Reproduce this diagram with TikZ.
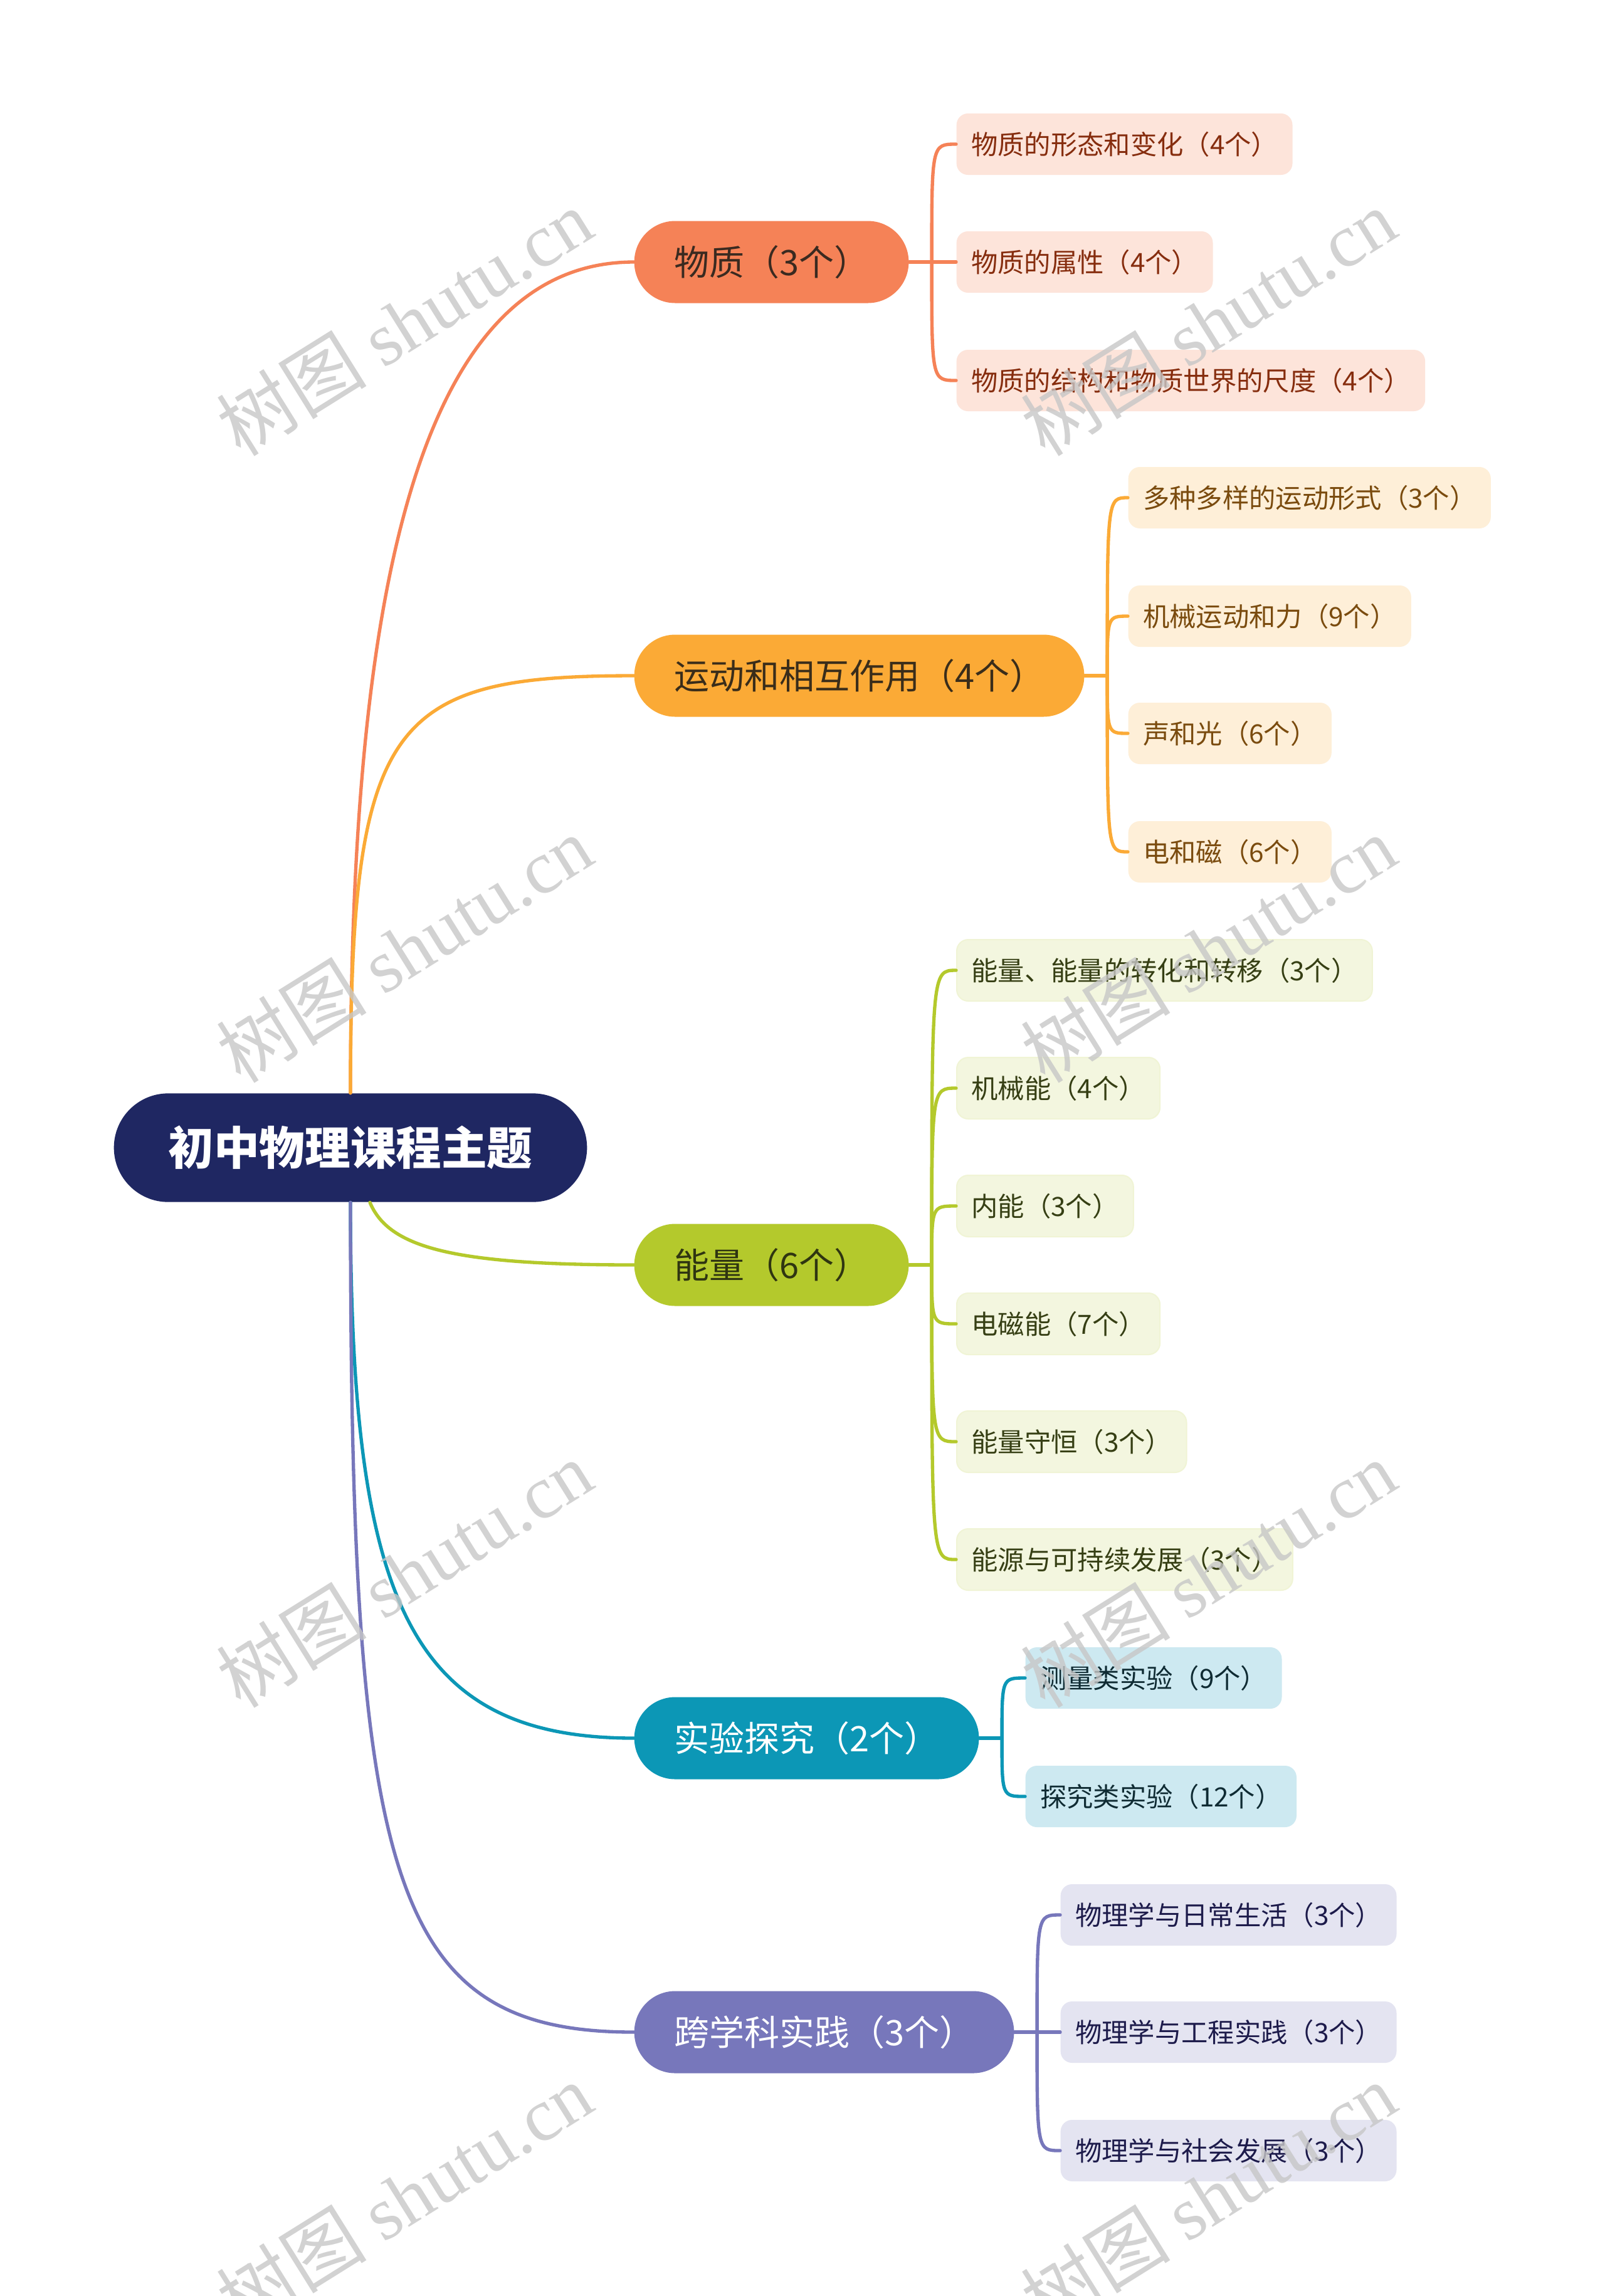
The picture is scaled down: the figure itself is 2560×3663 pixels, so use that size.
\documentclass[tikz,border=0pt]{standalone}
\usepackage{fontspec}
\setmainfont{Noto Sans CJK SC}
\newfontfamily\wmlat{Liberation Serif}
\newfontfamily\wmcjk{Noto Sans CJK SC}
\usetikzlibrary{calc}
\definecolor{rootc}{HTML}{1F2762}
\definecolor{cA}{HTML}{F58257}
\definecolor{cB}{HTML}{FBAA36}
\definecolor{cC}{HTML}{B4C92C}
\definecolor{cD}{HTML}{0C97B6}
\definecolor{cE}{HTML}{7777BB}
\definecolor{fA}{HTML}{FDE4DA}
\definecolor{fB}{HTML}{FEEFD8}
\definecolor{fC}{HTML}{F3F6DF}
\definecolor{fD}{HTML}{CDE9F1}
\definecolor{fE}{HTML}{E4E4F1}
\definecolor{tA}{HTML}{862D0E}
\definecolor{tB}{HTML}{7A4B0E}
\definecolor{tC}{HTML}{363F14}
\definecolor{tD}{HTML}{0F2B33}
\definecolor{tE}{HTML}{1D1B4B}
\definecolor{btA}{HTML}{3A2A20}
\definecolor{btB}{HTML}{3A2D1A}
\definecolor{btC}{HTML}{2F3511}
\tikzset{
  rootnode/.style={rounded corners=26pt, fill=rootc, text=white,
    font=\fontsize{21.8}{26}\selectfont\bfseries, minimum height=52pt,
    inner xsep=26pt, inner ysep=0pt},
  branchnode/.style={rounded corners=19.6pt, minimum height=39.3pt,
    inner xsep=19pt, inner ysep=0pt, font=\fontsize{16.8}{20}\selectfont, anchor=west},
  leafnode/.style={rounded corners=5.5pt, minimum height=29.4pt,
    inner xsep=7pt, inner ysep=0pt, font=\fontsize{12.7}{15}\selectfont, anchor=west},
  link/.style={line width=1.6pt, line cap=round},
  wm/.style={text=black!22, opacity=0.8, font=\fontsize{36}{38}\selectfont, rotate=32, inner sep=0pt}
}
\begin{document}
\begin{tikzpicture}[x=0.3pt,y=-0.3pt]
\fill[white] (0,0) rectangle (2560,3663);
\useasboundingbox (0,0) rectangle (2560,3663);

% root
\node[rootnode] (root) at (559,1831) {初中物理课程主题};

% branches
\node[branchnode, fill=cA, text=btA] (b1) at (1011,418) {物质（3个）};
\node[branchnode, fill=cB, text=btB] (b2) at (1011,1078) {运动和相互作用（4个）};
\node[branchnode, fill=cC, text=btC] (b3) at (1011,2018) {能量（6个）};
\node[branchnode, fill=cD, text=white] (b4) at (1011,2773) {实验探究（2个）};
\node[branchnode, fill=cE, text=white] (b5) at (1011,3242) {跨学科实践（3个）};

% root connectors
\draw[link, cA] (root.north) .. controls (559,1000) and (650,418) .. (b1.west);
\draw[link, cB] (root.north) .. controls (559,1150) and (620,1078) .. (b2.west);
\draw[link, cC] ($(root.south)+(31,0)$) .. controls (620,1990) and (720,2018) .. (b3.west);
\draw[link, cD] (root.south) .. controls (559,2550) and (650,2773) .. (b4.west);
\draw[link, cE] (root.south) .. controls (559,3000) and (620,3242) .. (b5.west);

% leaves A
\node[leafnode, fill=fA, text=tA] (a1) at (1525,230) {物质的形态和变化（4个）};
\node[leafnode, fill=fA, text=tA] (a2) at (1525,418) {物质的属性（4个）};
\node[leafnode, fill=fA, text=tA] (a3) at (1525,607) {物质的结构和物质世界的尺度（4个）};
% leaves B
\node[leafnode, fill=fB, text=tB] (n1) at (1799,794) {多种多样的运动形式（3个）};
\node[leafnode, fill=fB, text=tB] (n2) at (1799,983) {机械运动和力（9个）};
\node[leafnode, fill=fB, text=tB] (n3) at (1799,1170) {声和光（6个）};
\node[leafnode, fill=fB, text=tB] (n4) at (1799,1359) {电和磁（6个）};
% leaves C
\node[leafnode, fill=fC, draw=cC!20, line width=0.6pt, text=tC] (e1) at (1525,1548) {能量、能量的转化和转移（3个）};
\node[leafnode, fill=fC, draw=cC!20, line width=0.6pt, text=tC] (e2) at (1525,1736) {机械能（4个）};
\node[leafnode, fill=fC, draw=cC!20, line width=0.6pt, text=tC] (e3) at (1525,1924) {内能（3个）};
\node[leafnode, fill=fC, draw=cC!20, line width=0.6pt, text=tC] (e4) at (1525,2112) {电磁能（7个）};
\node[leafnode, fill=fC, draw=cC!20, line width=0.6pt, text=tC] (e5) at (1525,2300) {能量守恒（3个）};
\node[leafnode, fill=fC, draw=cC!20, line width=0.6pt, text=tC] (e6) at (1525,2488) {能源与可持续发展（3个）};
% leaves D
\node[leafnode, fill=fD, text=tD] (x1) at (1635,2677) {测量类实验（9个）};
\node[leafnode, fill=fD, text=tD] (x2) at (1635,2866) {探究类实验（12个）};
% leaves E
\node[leafnode, fill=fE, text=tE] (p1) at (1691,3055) {物理学与日常生活（3个）};
\node[leafnode, fill=fE, text=tE] (p2) at (1691,3242) {物理学与工程实践（3个）};
\node[leafnode, fill=fE, text=tE] (p3) at (1691,3431) {物理学与社会发展（3个）};

% junctions
\coordinate (jA) at ($(b1.east)+(36,0)$);
\coordinate (jB) at ($(b2.east)+(36,0)$);
\coordinate (jC) at ($(b3.east)+(36,0)$);
\coordinate (jD) at ($(b4.east)+(36,0)$);
\coordinate (jE) at ($(b5.east)+(36,0)$);

\draw[link, cA] (b1.east) -- (jA);
\foreach \l in {a1,a2,a3} \draw[link, cA] (jA) .. controls (jA |- \l.west) .. (\l.west);
\draw[link, cB] (b2.east) -- (jB);
\foreach \l in {n1,n2,n3,n4} \draw[link, cB] (jB) .. controls (jB |- \l.west) .. (\l.west);
\draw[link, cC] (b3.east) -- (jC);
\foreach \l in {e1,e2,e3,e4,e5,e6} \draw[link, cC] (jC) .. controls (jC |- \l.west) .. (\l.west);
\draw[link, cD] (b4.east) -- (jD);
\foreach \l in {x1,x2} \draw[link, cD] (jD) .. controls (jD |- \l.west) .. (\l.west);
\draw[link, cE] (b5.east) -- (jE);
\foreach \l in {p1,p2,p3} \draw[link, cE] (jE) .. controls (jE |- \l.west) .. (\l.west);

% watermarks
\foreach \wx in {645,1927} {
  \foreach \wy in {514,1514,2511,3504} {
    \node[wm] at (\wx,\wy) {\wmcjk 树图\ \wmlat shutu.cn};
  }
}
\end{tikzpicture}
\end{document}
